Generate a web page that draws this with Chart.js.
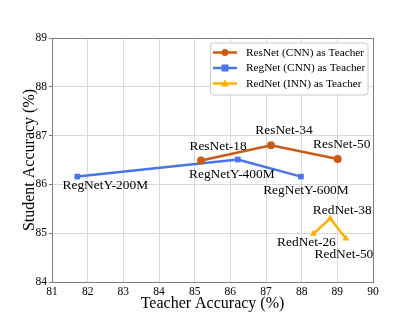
<!DOCTYPE html>
<html><head><meta charset="utf-8">
<script src="https://cdn.jsdelivr.net/npm/chart.js@4"></script>
<style>html,body{margin:0;padding:0;background:#fff}#wrap{width:415px;height:317px}</style>
</head><body><div id="wrap"><canvas id="c" width="415" height="317"></canvas></div>
<script>
const resnetNames = ['ResNet-18','ResNet-34','ResNet-50'];
const resnetTeacher = [85.18, 87.14, 89.01];
const resnetStudent = [86.49, 86.80, 86.52];
const regnetNames = ['RegNetY-200M','RegNetY-400M','RegNetY-600M'];
const regnetTeacher = [81.71, 86.21, 87.98];
const regnetStudent = [86.16, 86.51, 86.16];
const rednetNames = ['RedNet-26','RedNet-38','RedNet-50'];
const rednetTeacher = [88.33, 88.80, 89.24];
const rednetStudent = [84.99, 85.30, 84.89];
const seriesNames = ['ResNet (CNN) as Teacher','RegNet (CNN) as Teacher','RedNet (INN) as Teacher'];
const xTicks = [81,82,83,84,85,86,87,88,89,90];
const yTicks = [84,85,86,87,88,89];

// label offsets in pixels (style, not data)
const labelOffsets = {
  'ResNet-18':[17,-14],'ResNet-34':[13,-15],'ResNet-50':[4,-15],
  'RegNetY-200M':[28,9],'RegNetY-400M':[-6,15],'RegNetY-600M':[5,14],
  'RedNet-26':[-7,9],'RedNet-38':[12,-8],'RedNet-50':[-2,16]
};
const colors = ['#CC5A14','#4A74E8','#FFB000'];
const styles = ['circle','rect','triangle'];
const FONT = "'Liberation Serif','Times New Roman',serif";

function mk(names, xs, ys){ return xs.map((x,i)=>({x, y: ys[i], name: names[i]})); }
const datasets = [
  mk(resnetNames,resnetTeacher,resnetStudent),
  mk(regnetNames,regnetTeacher,regnetStudent),
  mk(rednetNames,rednetTeacher,rednetStudent)
].map((d,i)=>({
  label: seriesNames[i], data: d, showLine: true,
  borderColor: colors[i], backgroundColor: colors[i], borderWidth: 2.5,
  pointStyle: styles[i], pointRadius: 4, pointHoverRadius: 4, pointBorderWidth: 0
}));

const framePlugin = {
  id: 'frame',
  beforeDatasetsDraw(chart){
    const {ctx, chartArea:a} = chart;
    ctx.save();
    ctx.strokeStyle = '#7f7f7f'; ctx.lineWidth = 1;
    ctx.beginPath();
    ctx.moveTo(a.left, Math.round(a.top)+0.5); ctx.lineTo(a.right, Math.round(a.top)+0.5);
    ctx.moveTo(Math.round(a.right)+0.5, a.top); ctx.lineTo(Math.round(a.right)+0.5, a.bottom);
    ctx.stroke();
    ctx.restore();
  }
};

const labelPlugin = {
  id: 'labels',
  afterDatasetsDraw(chart){
    const ctx = chart.ctx;
    ctx.save();
    ctx.font = "13.4px " + FONT;
    ctx.fillStyle = '#000';
    ctx.textAlign = 'center';
    ctx.textBaseline = 'middle';
    chart.data.datasets.forEach((ds)=>{
      ds.data.forEach(p=>{
        const px = chart.scales.x.getPixelForValue(p.x);
        const py = chart.scales.y.getPixelForValue(p.y);
        const o = labelOffsets[p.name];
        ctx.fillText(p.name, px+o[0], py+o[1]);
      });
    });
    // legend
    const bx=210, by=42.5, bw=157.5, bh=52;
    ctx.fillStyle='rgba(255,255,255,0.85)';
    ctx.strokeStyle='#cccccc'; ctx.lineWidth=1;
    ctx.beginPath();
    if (ctx.roundRect) ctx.roundRect(bx+0.5,by+0.5,bw,bh,3); else ctx.rect(bx+0.5,by+0.5,bw,bh);
    ctx.fill(); ctx.stroke();
    ctx.font = "11.3px " + FONT;
    ctx.textAlign='left';
    chart.data.datasets.forEach((ds,i)=>{
      const y = by + 10 + i*15.5;
      ctx.strokeStyle=colors[i]; ctx.lineWidth=2.5;
      ctx.beginPath(); ctx.moveTo(bx+3,y); ctx.lineTo(bx+27,y); ctx.stroke();
      ctx.fillStyle=colors[i];
      const cx=bx+15;
      ctx.beginPath();
      if(i===0){ctx.arc(cx,y,3.5,0,Math.PI*2);}
      else if(i===1){ctx.rect(cx-3.5,y-3.5,7,7);}
      else {ctx.moveTo(cx,y-4);ctx.lineTo(cx+4,y+3);ctx.lineTo(cx-4,y+3);ctx.closePath();}
      ctx.fill();
      ctx.fillStyle='#000';
      ctx.fillText(ds.label, bx+36, y+0.5);
    });
    ctx.restore();
  }
};

new Chart(document.getElementById('c'), {
  type: 'scatter',
  data: { datasets },
  plugins: [framePlugin, labelPlugin],
  options: {
    responsive: false, animation: false,
    layout: { padding: { top: 38, right: 42, left: 0, bottom: 0 } },
    plugins: { legend: { display: false }, tooltip: { enabled: false } },
    scales: {
      x: {
        type: 'linear', min: 81, max: 90,
        afterBuildTicks: s => { s.ticks = xTicks.map(v=>({value:v})); },
        afterFit: s => { s.height = 35; },
        grid: { color: '#d9d9d9', lineWidth: 1, drawTicks: false },
        border: { color: '#7f7f7f', width: 1 },
        ticks: { font: { family: FONT, size: 11.5 }, color: '#000', padding: 3, maxRotation: 0 },
        title: { display: true, text: 'Teacher Accuracy (%)', font: { family: FONT, size: 16 }, color: '#000', padding: { top: 0, bottom: 4 } }
      },
      y: {
        type: 'linear', min: 84, max: 89,
        afterBuildTicks: s => { s.ticks = yTicks.map(v=>({value:v})); },
        afterFit: s => { s.width = 52; },
        grid: { color: '#d9d9d9', lineWidth: 1, tickLength: 3, tickColor: '#7f7f7f' },
        border: { color: '#7f7f7f', width: 1 },
        ticks: { font: { family: FONT, size: 11.5 }, color: '#000', padding: 2 },
        title: { display: true, text: 'Student Accuracy (%)', font: { family: FONT, size: 16 }, color: '#000', padding: { top: 20, bottom: 0 } }
      }
    }
  }
});
</script></body></html>
